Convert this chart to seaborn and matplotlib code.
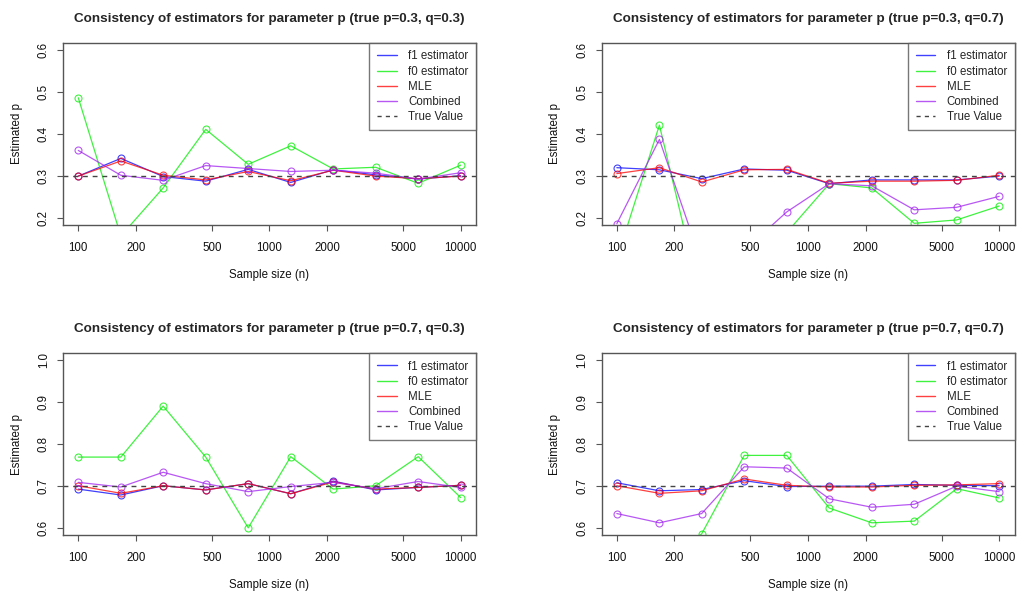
import pandas as pd
import matplotlib
matplotlib.use("Agg")
import matplotlib.pyplot as plt
from matplotlib.lines import Line2D
from matplotlib.ticker import FixedLocator, FixedFormatter, NullLocator
import seaborn as sns

# sample sizes (log-spaced, 10 points)
n_sizes = [100, 167, 278, 464, 774, 1292, 2154, 3594, 5995, 10000]

# p=0.3, q=0.3
f1_a = [0.300, 0.342, 0.299, 0.288, 0.316, 0.285, 0.315, 0.303, 0.293, 0.301]
f0_a = [0.486, 0.158, 0.272, 0.411, 0.328, 0.372, 0.317, 0.321, 0.283, 0.326]
mle_a = [0.300, 0.336, 0.302, 0.291, 0.311, 0.289, 0.314, 0.300, 0.294, 0.300]
comb_a = [0.361, 0.302, 0.290, 0.325, 0.318, 0.311, 0.314, 0.307, 0.293, 0.308]

# p=0.3, q=0.7
f1_b = [0.320, 0.315, 0.294, 0.317, 0.314, 0.282, 0.291, 0.291, 0.291, 0.300]
f0_b = [0.103, 0.421, 0.000, 0.050, 0.166, 0.282, 0.272, 0.188, 0.196, 0.229]
mle_b = [0.306, 0.320, 0.286, 0.315, 0.316, 0.283, 0.288, 0.288, 0.290, 0.302]
comb_b = [0.187, 0.387, 0.093, 0.124, 0.215, 0.282, 0.277, 0.220, 0.226, 0.252]

# p=0.7, q=0.3
f1_c = [0.693, 0.679, 0.701, 0.691, 0.706, 0.682, 0.712, 0.691, 0.697, 0.702]
f0_c = [0.769, 0.769, 0.890, 0.769, 0.601, 0.770, 0.693, 0.701, 0.770, 0.673]
mle_c = [0.701, 0.683, 0.701, 0.691, 0.706, 0.682, 0.710, 0.693, 0.697, 0.702]
comb_c = [0.709, 0.698, 0.733, 0.706, 0.687, 0.699, 0.709, 0.694, 0.711, 0.697]

# p=0.7, q=0.7
f1_d = [0.708, 0.689, 0.692, 0.713, 0.699, 0.700, 0.700, 0.704, 0.702, 0.701]
f0_d = [0.450, 0.500, 0.587, 0.773, 0.773, 0.648, 0.613, 0.617, 0.694, 0.672]
mle_d = [0.701, 0.683, 0.689, 0.717, 0.702, 0.698, 0.698, 0.702, 0.703, 0.706]
comb_d = [0.635, 0.613, 0.635, 0.746, 0.743, 0.670, 0.650, 0.657, 0.700, 0.687]

titles = ["Consistency of estimators for parameter p (true p=0.3, q=0.3)",
          "Consistency of estimators for parameter p (true p=0.3, q=0.7)",
          "Consistency of estimators for parameter p (true p=0.7, q=0.3)",
          "Consistency of estimators for parameter p (true p=0.7, q=0.7)"]
true_p = [0.3, 0.3, 0.7, 0.7]
panels = [(f1_a, f0_a, mle_a, comb_a), (f1_b, f0_b, mle_b, comb_b),
          (f1_c, f0_c, mle_c, comb_c), (f1_d, f0_d, mle_d, comb_d)]

names = ["f1 estimator", "f0 estimator", "MLE", "Combined"]
colors = ["#0000FF", "#00EE00", "#FF0000", "#A020F0"]
x_ticks = [100, 200, 500, 1000, 2000, 5000, 10000]

sns.set_theme(style="white")
plt.rcParams['font.family'] = ['Liberation Sans', 'DejaVu Sans']

fig = plt.figure(figsize=(10.19, 5.96), dpi=100)
positions = [(0.0618, 0.6225, 0.4053, 0.3054), (0.5903, 0.6225, 0.4053, 0.3054),
             (0.0618, 0.1023, 0.4053, 0.3054), (0.5903, 0.1023, 0.4053, 0.3054)]

for i in range(4):
    ax = fig.add_axes(positions[i])
    df = pd.DataFrame({"n": n_sizes})
    for name, vals in zip(names, panels[i]):
        df[name] = vals
    df = df.melt(id_vars="n", var_name="estimator", value_name="p_hat")

    for name, col in zip(names, colors):
        sns.lineplot(data=df[df["estimator"] == name], x="n", y="p_hat", ax=ax,
                     color=col, marker="o", markersize=5, markerfacecolor="none",
                     markeredgecolor=col, markeredgewidth=0.8, linewidth=0.9,
                     alpha=0.75, legend=False)
    ax.axhline(true_p[i], color="#444444", lw=1, ls=(0, (3.5, 3.5)))

    ax.set_xscale("log")
    ax.set_xlim(10 ** 1.92, 10 ** 4.08)
    ax.xaxis.set_major_locator(FixedLocator(x_ticks))
    ax.xaxis.set_major_formatter(FixedFormatter([str(t) for t in x_ticks]))
    ax.xaxis.set_minor_locator(NullLocator())
    lo = true_p[i] - 0.1
    ax.set_ylim(lo - 0.016, lo + 0.416)
    ax.set_yticks([round(lo + 0.1 * k, 1) for k in range(5)])
    ax.set_yticklabels([f"{lo + 0.1 * k:.1f}" for k in range(5)], rotation=90, va="center")

    for s in ax.spines.values():
        s.set_color("#555555")
        s.set_linewidth(1)
    ax.tick_params(bottom=True, left=True, direction="out", length=4.5, width=0.8,
                   color="#555555", labelsize=8.3, labelcolor="#111111")
    ax.tick_params(axis="x", pad=7.8)
    ax.tick_params(axis="y", pad=5)

    ax.set_xlabel("Sample size (n)", fontsize=8.3, labelpad=11, color="#111111")
    ax.set_ylabel("Estimated p", fontsize=8.3, labelpad=11, color="#111111")
    ax.set_title(titles[i], fontsize=9.7, fontweight="bold", pad=15)

    handles = [Line2D([], [], color=c, lw=1, alpha=0.75) for c in colors]
    handles.append(Line2D([], [], color="#444444", lw=1, ls=(0, (3, 3))))
    leg = ax.legend(handles, names + ["True Value"], loc="upper right", fontsize=8.3,
                    frameon=True, fancybox=False, borderaxespad=0, handlelength=1.7,
                    handletextpad=1.0, labelspacing=0.27, borderpad=0.65)
    leg.get_frame().set_edgecolor("#555555")
    leg.get_frame().set_linewidth(1)

fig.savefig("out.png", dpi=100)
